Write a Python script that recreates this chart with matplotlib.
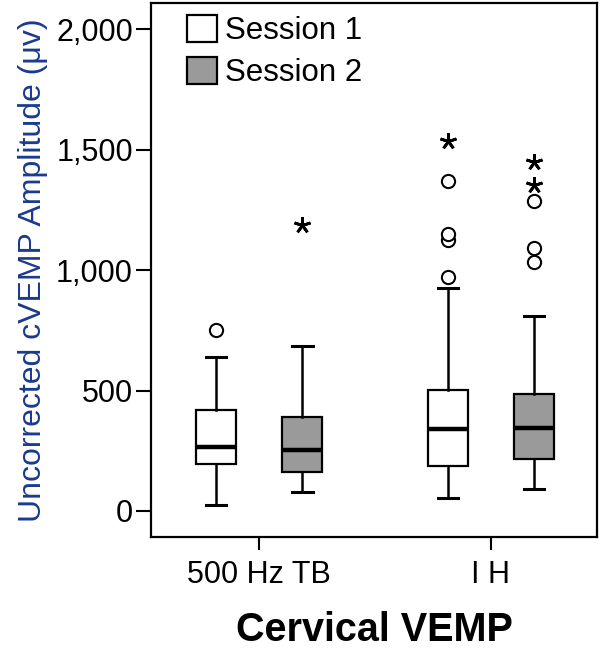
import matplotlib
matplotlib.use("Agg")
import matplotlib.pyplot as plt
from matplotlib.patches import Patch

plt.rcParams['font.family'] = ['Liberation Sans', 'DejaVu Sans']

# ---- data ----
categories = ["500 Hz TB", "I H"]
sessions = ["Session 1", "Session 2"]
session_colors = ["#ffffff", "#9a9a9a"]

# order: [500Hz S1, 500Hz S2, IH S1, IH S2]
q1 = [195, 161, 187, 215]
med = [267, 253, 341, 343]
q3 = [419, 389, 502, 486]
whislo = [25, 78, 53, 90]
whishi = [641, 685, 927, 810]
outliers_circle = [[752], [], [973, 1125, 1149, 1370], [1033, 1093, 1288]]
outliers_star = [[], [1188], [1538], [1354, 1451]]

yticks = [0, 500, 1000, 1500, 2000]
ytick_labels = ["0", "500", "1,000", "1,500", "2,000"]

ylabel = "Uncorrected cVEMP Amplitude (\u03bcv)"
xlabel = "Cervical VEMP"

# ---- figure ----
fig = plt.figure(figsize=(6, 6.5), dpi=100)
ax = fig.add_axes([151 / 600, 1 - 536.7 / 650, (597 - 151) / 600, (536.7 - 3) / 650])

offset = 0.186
width = 0.173
stats = []
positions = []
facecolors = []
for ci in range(len(categories)):
    for si in range(len(sessions)):
        k = ci * len(sessions) + si
        stats.append(dict(med=med[k], q1=q1[k], q3=q3[k], whislo=whislo[k],
                          whishi=whishi[k], fliers=[]))
        positions.append(ci + (si - 0.5) * 2 * offset)
        facecolors.append(session_colors[si])

bp = ax.bxp(stats, positions=positions, widths=width, patch_artist=True,
            showfliers=False,
            boxprops=dict(edgecolor="black", linewidth=1.6),
            medianprops=dict(color="black", linewidth=3.2, solid_capstyle="butt"),
            whiskerprops=dict(color="black", linewidth=1.8),
            capprops=dict(color="black", linewidth=2.2),
            capwidths=0.088)
for patch, fc in zip(bp["boxes"], facecolors):
    patch.set_facecolor(fc)

for k, pos in enumerate(positions):
    if outliers_circle[k]:
        ax.plot([pos] * len(outliers_circle[k]), outliers_circle[k], linestyle="none",
                marker="o", markersize=9.5, markerfacecolor="white",
                markeredgecolor="black", markeredgewidth=1.5)
    if outliers_star[k]:
        ax.plot([pos] * len(outliers_star[k]), outliers_star[k], linestyle="none",
                marker=(5, 2, 0), markersize=12, markeredgecolor="black",
                markeredgewidth=2.0)

ax.set_xlim(-0.468, 1.459)
ax.set_ylim(-107, 2110)
ax.set_xticks(range(len(categories)))
ax.set_xticklabels(categories, fontsize=22)
ax.set_yticks(yticks)
ax.set_yticklabels(ytick_labels, fontsize=22)
ax.tick_params(axis="y", length=11, width=1.5, pad=2)
ax.tick_params(axis="x", length=9.5, width=1.5, pad=7)
for sp in ax.spines.values():
    sp.set_linewidth(1.6)

ax.set_ylabel(ylabel, fontsize=23, color="#1c3a8c", labelpad=6)
fig.text(374 / 600, 1 - 641 / 650, xlabel, fontsize=28.5, fontweight="bold",
         ha="center", va="baseline")

handles = [Patch(facecolor=c, edgecolor="black", linewidth=1.6) for c in session_colors]
ax.legend(handles, sessions, loc="upper left", bbox_to_anchor=(0.081, 0.978),
          frameon=False, fontsize=22.5, borderaxespad=0, borderpad=0,
          handlelength=0.95, handleheight=0.95, handletextpad=0.25, labelspacing=0.36)

fig.savefig("out.png", dpi=100)
